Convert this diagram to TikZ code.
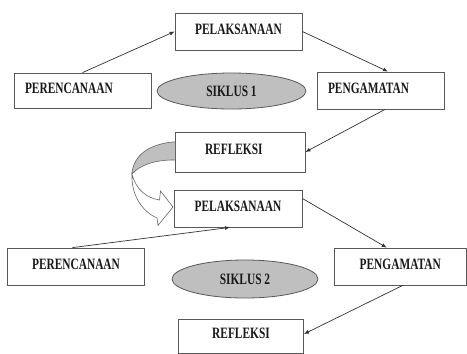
\documentclass[tikz,border=0pt]{standalone}
\usepackage{fontspec}
\setmainfont{Liberation Serif}
\newfontfamily\boxfont{Liberation Serif}[FakeStretch=0.72]
\usetikzlibrary{arrows.meta,shapes.geometric}
\begin{document}
\begin{tikzpicture}[x=1pt,y=-1pt,
  stepbox/.style={draw=black!65, line width=0.8pt, fill=white, inner sep=0pt,
    text height=10pt, text depth=5pt,
    font=\boxfont\bfseries\fontsize{15.8}{17}\selectfont, text=black!90},
  cyc/.style={ellipse, draw=black!65, line width=0.8pt, fill=black!25, inner sep=0pt,
    font=\boxfont\bfseries\fontsize{15.8}{17}\selectfont, text=black!90},
  link/.style={draw=black!80, line width=0.7pt, -{Latex[length=5pt,width=4pt]}},
  ribbon/.style={draw=black!60, line width=0.6pt}
]
\useasboundingbox (0,0) rectangle (467,354);

% cycle 1
\node[stepbox, minimum width=127pt, minimum height=37pt] (P1) at (238.5,31.5) {PELAKSANAAN};
\node[stepbox, minimum height=35pt, text width=115pt, inner xsep=11pt, align=left] (R1) at (82.5,90.5) {PERENCANAAN};
\node[cyc, minimum width=149pt, minimum height=36pt] (S1) at (231.5,91) {SIKLUS 1};
\node[stepbox, minimum height=37pt, text width=105pt, inner xsep=11pt, align=left] (G1) at (380.5,90.5) {PENGAMATAN};
\node[stepbox, minimum height=40pt, text width=70pt, inner xsep=30pt, align=left] (F1) at (240,152) {REFLEKSI};

% cycle 2
\node[stepbox, minimum width=128pt, minimum height=37pt] (P2) at (238,208.5) {PELAKSANAAN};
\node[stepbox, minimum width=137pt, minimum height=37pt] (R2) at (76,266.5) {PERENCANAAN};
\node[cyc, minimum width=146pt, minimum height=38pt] (S2) at (245,279) {SIKLUS 2};
\node[stepbox, minimum width=132pt, minimum height=37pt] (G2) at (400.25,266.5) {PENGAMATAN};
\node[stepbox, minimum width=125pt, minimum height=34pt] (F2) at (241,336) {REFLEKSI};

% connectors cycle 1
\draw[link] (R1.north) -- (P1.west);
\draw[link] (P1.east) -- ([xshift=7.5pt]G1.north);
\draw[link] ([xshift=4.5pt]G1.south) -- (F1.east);

% connectors cycle 2
\draw[link] ([xshift=-3.5pt]R2.north) -- ([xshift=-8pt]P2.south);
\draw[link] ([yshift=10pt]P2.east) -- ([xshift=-13.5pt]G2.north);
\draw[link] ([xshift=2.5pt]G2.south) -- ([yshift=2pt]F2.east);

% curved block arrow from REFLEKSI 1 to PELAKSANAAN 2
\fill[black!25] (175,142) -- (173,142) .. controls (150,144) and (133,155) .. (132,174)
   .. controls (140,165) and (155,160) .. (173,160) -- (175,160) -- cycle;
\draw[ribbon] (175,142) -- (173,142) .. controls (150,144) and (133,155) .. (132,174)
   .. controls (140,165) and (155,160) .. (173,160) -- (175,160);
\draw[ribbon, fill=white] (132,174) .. controls (131,198) and (145,213) .. (157,218)
   -- (158,225.5) -- (173,207) -- (160.5,191) -- (159.5,200)
   .. controls (147,198) and (136,190) .. (132,174) -- cycle;
\end{tikzpicture}
\end{document}
